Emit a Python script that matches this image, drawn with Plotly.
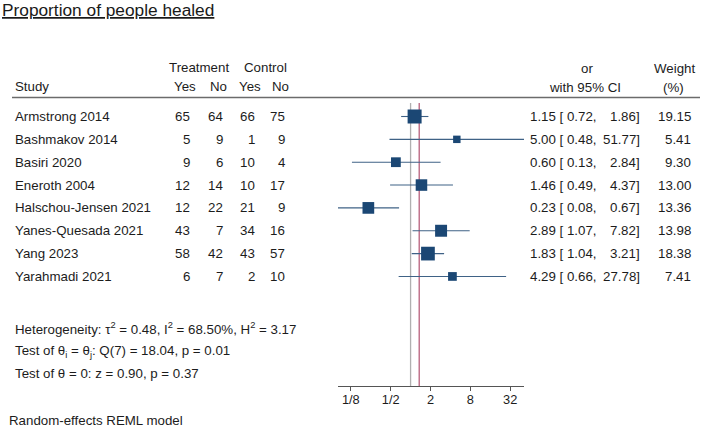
import math
import plotly.graph_objects as go

# ---------------- data ----------------
studies = ["Armstrong 2014", "Bashmakov 2014", "Basiri 2020", "Eneroth 2004",
           "Halschou-Jensen 2021", "Yanes-Quesada 2021", "Yang 2023", "Yarahmadi 2021"]
treat_yes = [65, 5, 9, 12, 12, 43, 58, 6]
treat_no = [64, 9, 6, 14, 22, 7, 42, 7]
ctrl_yes = [66, 1, 10, 10, 21, 34, 43, 2]
ctrl_no = [75, 9, 4, 17, 9, 16, 57, 10]
odds_ratio = [1.15, 5.00, 0.60, 1.46, 0.23, 2.89, 1.83, 4.29]
ci_low = [0.72, 0.48, 0.13, 0.49, 0.08, 1.07, 1.04, 0.66]
ci_high = [1.86, 51.77, 2.84, 4.37, 0.67, 7.82, 3.21, 27.78]
weights = [19.15, 5.41, 9.30, 13.00, 13.36, 13.98, 18.38, 7.41]
overall_or = 1.35
tick_vals = [0.125, 0.5, 2, 8, 32]
tick_text = ["1/8", "1/2", "2", "8", "32"]

title = "Proportion of people healed"
stats_lines = [
    "Heterogeneity: τ<sup>2</sup> = 0.48, I<sup>2</sup> = 68.50%, H<sup>2</sup> = 3.17",
    "Test of θ<sub>i</sub> = θ<sub>j</sub>: Q(7) = 18.04, p = 0.01",
    "Test of θ = 0: z = 0.90, p = 0.37",
]
model_note = "Random-effects REML model"

# ---------------- layout helpers ----------------
W, H = 709, 430
ROW0, ROWH = 116.5, 22.85          # pixel centre of first row, row pitch
FONT = "Arial, Liberation Sans, sans-serif"
FS = 13.3
TXT = "#1c1c1c"
NAVY = "#1b4774"


def ry(px):
    """pixel y -> row units"""
    return (px - ROW0) / ROWH


def px_x(px):
    return px / W


rows = list(range(len(studies)))

fig = go.Figure()

# markers + CIs
fig.add_trace(go.Scatter(
    x=odds_ratio, y=rows, mode="markers",
    marker=dict(symbol="square", size=[3.2 * math.sqrt(w) for w in weights],
                color=NAVY, opacity=1, line=dict(width=0)),
    error_x=dict(type="data", symmetric=False,
                 array=[h - o for h, o in zip(ci_high, odds_ratio)],
                 arrayminus=[o - l for o, l in zip(odds_ratio, ci_low)],
                 width=0, thickness=1.1, color="#3f6286"),
    hoverinfo="skip", showlegend=False, cliponaxis=False,
))

axis_px = 386
line_top = ry(103)
line_bot = ry(axis_px)

shapes = [
    dict(type="line", xref="x", yref="y", x0=1, x1=1, y0=line_top, y1=line_bot,
         line=dict(color="#b0b0b0", width=1.3), layer="below"),
    dict(type="line", xref="x", yref="y", x0=overall_or, x1=overall_or, y0=line_top, y1=line_bot,
         line=dict(color="#b8607c", width=1.3), layer="below"),
    dict(type="line", xref="paper", yref="y", x0=px_x(12), x1=px_x(700), y0=ry(97.5), y1=ry(97.5),
         line=dict(color="#6b6b6b", width=1.3)),
]

ann = []


def add(text, xpx, ypx, anchor="left", size=FS, color=TXT):
    ann.append(dict(text=text, x=px_x(xpx), y=ry(ypx), xref="paper", yref="y",
                    xanchor=anchor, yanchor="middle", showarrow=False,
                    font=dict(family=FONT, size=size, color=color), borderpad=0))


# title
add("<u>" + title + "</u>", 1, 10, size=17.3, color="#1a1a1a")

# headers
add("Treatment", 199, 67, "center")
add("Control", 265, 67, "center")
add("Study", 14, 86)
add("Yes", 197, 86, "right")
add("No", 228, 86, "right")
add("Yes", 262, 86, "right")
add("No", 290, 86, "right")
add("or", 587, 68, "center")
add("with 95% CI", 585, 87, "center")
add("Weight", 674, 68, "center")
add("(%)", 673, 87, "center")

# rows
for i, s in enumerate(studies):
    ypx = ROW0 + ROWH * i
    add(s, 14, ypx)
    add(str(treat_yes[i]), 191, ypx, "right")
    add(str(treat_no[i]), 224, ypx, "right")
    add(str(ctrl_yes[i]), 256, ypx, "right")
    add(str(ctrl_no[i]), 286, ypx, "right")
    add(f"{odds_ratio[i]:.2f} [ {ci_low[i]:.2f},", 529, ypx)
    add(f"{ci_high[i]:.2f}]", 641, ypx, "right")
    add(f"{weights[i]:.2f}", 692, ypx, "right")

# stats
for t, ypx in zip(stats_lines, [328, 351, 373]):
    add(t, 14, ypx)
add(model_note, 8, 420)

x_lo = math.log10(min(ci_low))
x_hi = math.log10(max(ci_high))

fig.update_layout(
    width=W, height=H, margin=dict(l=0, r=0, t=0, b=0),
    paper_bgcolor="white", plot_bgcolor="rgba(0,0,0,0)",
    showlegend=False,
    xaxis=dict(type="log", domain=[338 / W, 524 / W], range=[x_lo, x_hi],
               tickvals=tick_vals, ticktext=tick_text,
               ticks="outside", ticklen=4, tickcolor="#555", tickwidth=1,
               showline=True, linecolor="#555", linewidth=1.2,
               showgrid=False, zeroline=False,
               anchor="free", position=(H - axis_px) / H,
               ticklabelstandoff=-2,
               tickfont=dict(family=FONT, size=12.8, color=TXT)),
    yaxis=dict(range=[ry(H), ry(0)], domain=[0, 1], visible=False,
               showgrid=False, zeroline=False),
    shapes=shapes, annotations=ann,
)

fig.write_html("out.html")
